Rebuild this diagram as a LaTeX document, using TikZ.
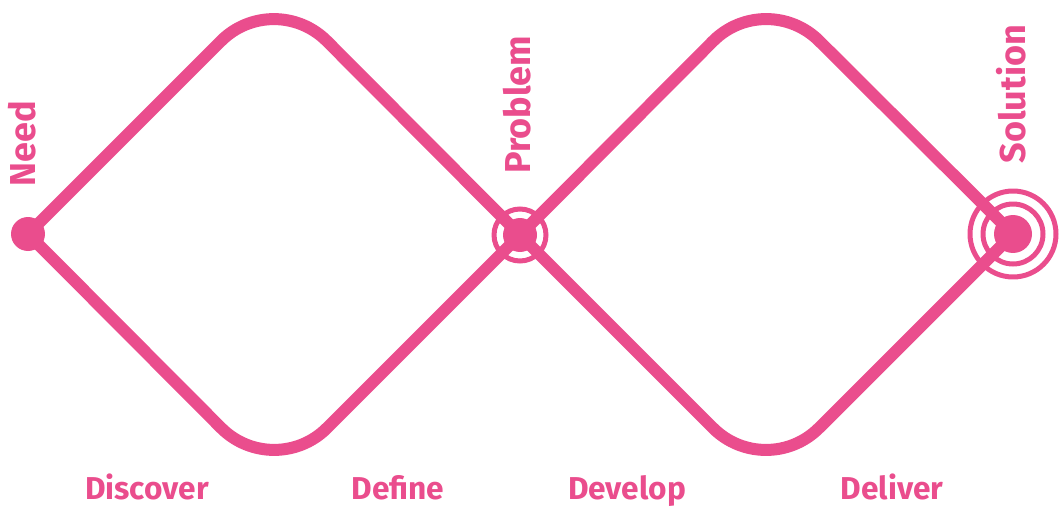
\documentclass[tikz,border=0pt]{standalone}
\usepackage{xcolor}
\usepackage{fontspec}
\setmainfont{Fira Sans}
\usepackage{tikz}
\definecolor{ddpink}{RGB}{234,77,141}

\begin{document}
\begin{tikzpicture}[x=0.02cm, y=-0.02cm,
    sideline/.style={ddpink, line width=0.24cm, rounded corners=1.5cm},
    dot/.style={circle, fill=ddpink, inner sep=0pt, minimum size=#1},
    ring/.style={circle, draw=ddpink, line width=0.1cm, inner sep=0pt, minimum size=#1},
    pointlabel/.style={text=ddpink, font=\fontsize{20.5}{22}\selectfont\bfseries, anchor=base, rotate=90, inner sep=0pt},
    phaselabel/.style={text=ddpink, font=\fontsize{18}{20}\selectfont\bfseries, anchor=base, inner sep=0pt}]
    \useasboundingbox (0,0) rectangle (1061,507);

    % the three points
    \node[dot=0.68cm] (need) at (28,234) {};
    \node[dot=0.68cm] (problem) at (520,235) {};
    \node[ring=1.04cm] (problemring) at (problem) {};
    \node[dot=0.76cm] (solution) at (1013,234) {};
    \node[ring=1.2cm] (solutionring) at (solution) {};
    \node[ring=1.72cm] (solutionouter) at (solution) {};

    % the two diamonds
    \coordinate (discovertop) at (274,-12);
    \coordinate (discoverbottom) at (274,481);
    \coordinate (developtop) at (766,-12);
    \coordinate (developbottom) at (766,481);
    \draw[sideline] (need.center) -- (discovertop) -- (problem.center);
    \draw[sideline] (need.center) -- (discoverbottom) -- (problem.center);
    \draw[sideline] (problem.center) -- (developtop) -- (solution.center);
    \draw[sideline] (problem.center) -- (developbottom) -- (solution.center);

    \node[pointlabel] (needlabel) at (35,144) {Need};
    \node[pointlabel] (problemlabel) at (530,105) {Problem};
    \node[pointlabel] (solutionlabel) at (1025,94) {Solution};

    \node[phaselabel] (discover) at (147,499) {Discover};
    \node[phaselabel] (define) at (398,499) {Define};
    \node[phaselabel] (develop) at (627,499) {Develop};
    \node[phaselabel] (deliver) at (892,499) {Deliver};
\end{tikzpicture}
\end{document}
